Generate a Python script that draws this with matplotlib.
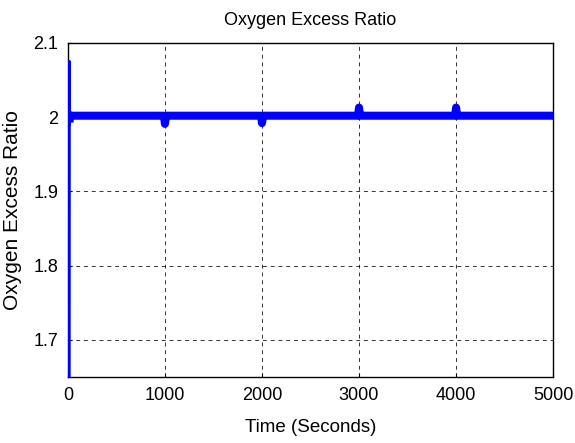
import matplotlib
matplotlib.use("Agg")
import matplotlib.pyplot as plt

# Data
time_s = [12, 13, 14, 15, 16, 18, 22, 30, 60,
          990, 1000, 1006, 1012,
          1990, 2000, 2006, 2012,
          2990, 3000, 3006, 3012,
          3990, 4000, 4006, 4012,
          4450, 5000]
oer = [1.65, 2.075, 2.07, 1.99, 1.995, 1.993, 2.003, 2.001, 2.002,
       2.002, 1.991, 1.996, 2.002,
       2.002, 1.992, 1.997, 2.002,
       2.002, 2.013, 2.006, 2.002,
       2.002, 2.013, 2.006, 2.002,
       2.002, 2.002]
x_ticks = [0, 1000, 2000, 3000, 4000, 5000]
y_ticks = [1.7, 1.8, 1.9, 2.0, 2.1]
y_tick_labels = ["1.7", "1.8", "1.9", "2", "2.1"]

plt.rcParams['font.family'] = ['Liberation Sans', 'DejaVu Sans']

fig = plt.figure(figsize=(5.75, 4.43), dpi=100)
ax = fig.add_axes([0.118, 0.149, 0.844, 0.754])

# initial transient (thin)
ax.plot(time_s[:7], oer[:7], color='#0000ff', linewidth=2.4, zorder=4)
# steady operation (thick band)
ax.plot(time_s[5:], oer[5:], color='#0000ff', linewidth=5.8, solid_joinstyle='round',
        solid_capstyle='butt', zorder=3)

ax.set_xlim(0, 5000)
ax.set_ylim(1.65, 2.1)
ax.set_xticks(x_ticks)
ax.set_yticks(y_ticks)
ax.set_yticklabels(y_tick_labels)
ax.tick_params(axis='both', labelsize=13, direction='in', length=3, pad=7)
ax.grid(True, linestyle=(0, (4, 4)), color='black', linewidth=0.7, alpha=0.8)

ax.set_title("Oxygen Excess Ratio", fontsize=13, pad=13)
ax.set_xlabel("Time (Seconds)", fontsize=13.5, labelpad=11)
ax.set_ylabel("Oxygen Excess Ratio", fontsize=15, labelpad=8)

for s in ax.spines.values():
    s.set_linewidth(1.0)

fig.savefig("out.png", dpi=100)
